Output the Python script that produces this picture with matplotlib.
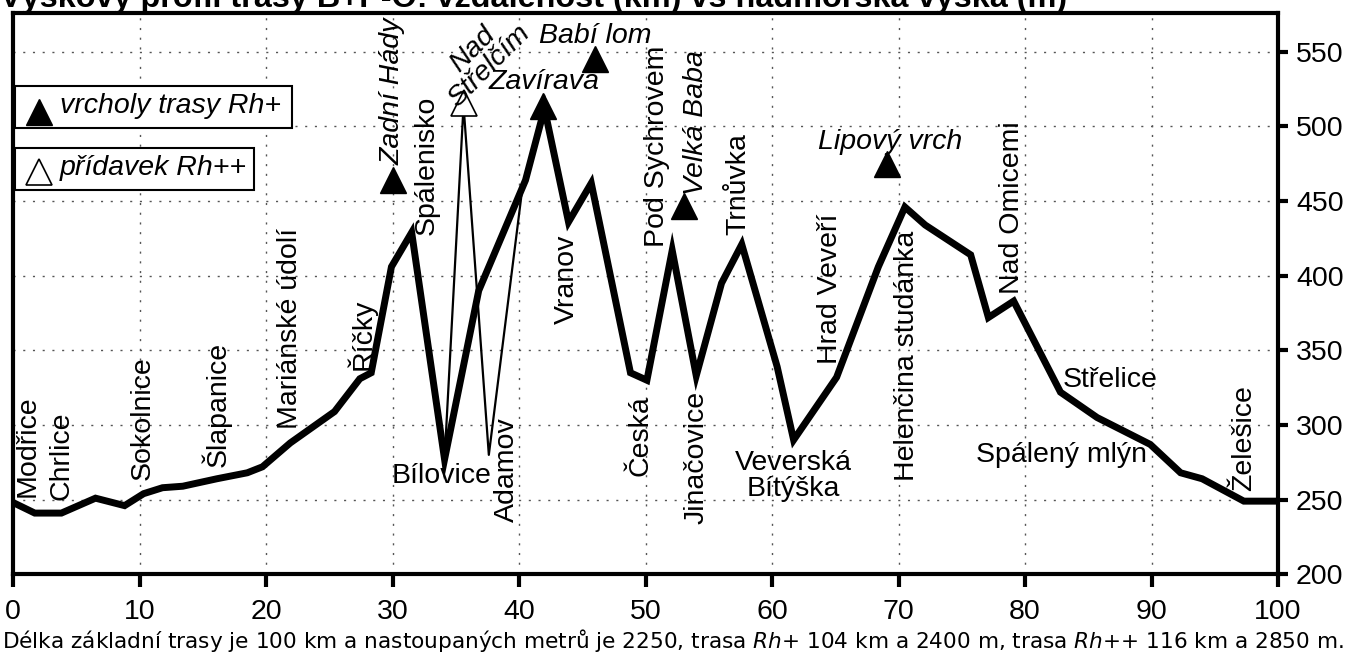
import matplotlib
matplotlib.use("Agg")
import matplotlib.pyplot as plt
from matplotlib.patches import Rectangle

plt.rcParams['font.family'] = ['Liberation Sans', 'DejaVu Sans']

# ---- data ----
route_km = [0, 1.7, 3.8, 6.5, 8.8, 10.3, 11.8, 13.4, 16.1, 18.5, 19.7, 21.9, 25.4, 27.4, 28.3,
            29.9, 31.5, 34.1, 36.8, 40.5, 42.0, 43.9, 45.7, 48.8, 50.1, 52.1, 54.0, 56.0, 57.6,
            60.4, 61.7, 65.1, 68.4, 70.5, 72.1, 75.7, 77.1, 79.1, 82.8, 85.7, 89.9, 92.3, 94.0,
            97.3, 100]
route_m = [248, 241, 241, 251, 246, 254, 258, 259, 264, 268, 272, 288, 309, 331, 335,
           406, 429, 277, 390, 464, 512, 436, 462, 335, 330, 417, 333, 395, 421,
           339, 290, 332, 406, 446, 434, 414, 372, 383, 322, 305, 287, 268, 264,
           249, 249]

extra_km = [34.1, 35.6, 37.6, 40.3]
extra_m = [277, 514, 280, 462]

peak_names = ["Zadní Hády", "Zavíravá", "Babí lom", "Velká Baba", "Lipový vrch"]
peak_km = [30.0, 41.9, 46.0, 53.0, 69.1]
peak_m = [464, 514, 545, 447, 475]

extra_peak_names = ["Nad\nStřelčím"]
extra_peak_km = [35.6]
extra_peak_m = [516]

place_names = ["Modřice", "Chrlice", "Sokolnice", "Šlapanice", "Mariánské údolí", "Říčky",
               "Spálenisko", "Bílovice", "Adamov", "Vranov", "Česká", "Pod Sychrovem",
               "Jinačovice", "Trnůvka", "Veverská\nBítýška", "Hrad Veveří",
               "Helenčina studánka", "Nad Omicemi", "Střelice", "Spálený mlýn", "Želešice"]

x_ticks = [0, 10, 20, 30, 40, 50, 60, 70, 80, 90, 100]
y_ticks = [200, 250, 300, 350, 400, 450, 500, 550]

title = "Výškový profil trasy B+P-O: vzdálenost (km) vs nadmořská výška (m)"
footnote = ("Délka základní trasy je 100 km a nastoupaných metrů je 2250, "
            "trasa $Rh$+ 104 km a 2400 m, trasa $Rh$++ 116 km a 2850 m.")

# label placement (km, m, rotation, ha, va)
place_pos = [
    (1.1, 252, 90, 'center', 'bottom'),
    (3.85, 250, 90, 'center', 'bottom'),
    (10.2, 263, 90, 'center', 'bottom'),
    (16.1, 272, 90, 'center', 'bottom'),
    (21.9, 297, 90, 'center', 'bottom'),
    (27.5, 337, 90, 'center', 'bottom'),
    (32.7, 427, 90, 'center', 'bottom'),
    (33.9, 266, 0, 'center', 'center'),
    (39.0, 305, 90, 'center', 'top'),
    (43.8, 368, 90, 'center', 'bottom'),
    (49.6, 320, 90, 'center', 'top'),
    (50.9, 419, 90, 'center', 'bottom'),
    (54.0, 323, 90, 'center', 'top'),
    (57.3, 427, 90, 'center', 'bottom'),
    (61.7, 266, 0, 'center', 'center'),
    (64.6, 341, 90, 'center', 'bottom'),
    (70.7, 430, 90, 'center', 'top'),
    (79.0, 388, 90, 'center', 'bottom'),
    (83.0, 330, 0, 'left', 'center'),
    (82.9, 280, 0, 'center', 'center'),
    (97.3, 256, 90, 'center', 'bottom'),
]
peak_label_pos = [
    (30.0, 474, 90, 'center', 'bottom'),
    (42.0, 521, 0, 'center', 'bottom'),
    (46.0, 552, 0, 'center', 'bottom'),
    (54.0, 454, 90, 'center', 'bottom'),
    (69.3, 481, 0, 'center', 'bottom'),
]
extra_label_pos = [(37.0, 546, 45, 'center', 'center')]

FS = 20.5

fig = plt.figure(figsize=(13.62, 6.57), dpi=100)
W, H = 1362, 657
L, R, T, B = 13.3, 1278, 13.3, 574.3
ax = fig.add_axes([L / W, 1 - B / H, (R - L) / W, (B - T) / H])

ax.set_xlim(0, 100)
ax.set_ylim(200, 575.8)

# grid
for xv in x_ticks[1:-1]:
    ax.axvline(xv, color='#555555', lw=1, linestyle=(0, (1.5, 5.5)), zorder=0)
for yv in y_ticks[1:]:
    ax.axhline(yv, color='#555555', lw=1, linestyle=(0, (1.5, 5.5)), zorder=0)

ax.plot(route_km, route_m, color='black', lw=5, solid_joinstyle='miter', zorder=3)
ax.plot(extra_km, extra_m, color='black', lw=1.6, zorder=3)

ax.plot(peak_km, peak_m, linestyle='none', marker='^', ms=19, color='black', zorder=4)
ax.plot(extra_peak_km, extra_peak_m, linestyle='none', marker='^', ms=19,
        markerfacecolor='white', markeredgecolor='black', markeredgewidth=1.2, zorder=4)

for name, (x, y, rot, ha, va) in zip(place_names, place_pos):
    ax.text(x, y, name, rotation=rot, ha=ha, va=va, fontsize=FS,
            multialignment='center', linespacing=1.0, zorder=5)
for name, (x, y, rot, ha, va) in zip(peak_names, peak_label_pos):
    ax.text(x, y, name, rotation=rot, ha=ha, va=va, fontsize=FS, style='italic', zorder=5)
for name, (x, y, rot, ha, va) in zip(extra_peak_names, extra_label_pos):
    ax.text(x, y, name, rotation=rot, ha=ha, va=va, fontsize=FS, style='italic',
            multialignment='center', linespacing=0.85, zorder=5)

# legend boxes
aw, ah = R - L, B - T
def px2ax(px, py):
    return (px - L) / aw, (B - py) / ah

x0, y0 = px2ax(15, 128)
x1, y1 = px2ax(292, 86)
ax.add_patch(Rectangle((x0, y0), x1 - x0, y1 - y0, transform=ax.transAxes,
                       facecolor='white', edgecolor='black', lw=1.5, zorder=6))
x0b, y0b = px2ax(15, 190)
x1b, y1b = px2ax(254, 148)
ax.add_patch(Rectangle((x0b, y0b), x1b - x0b, y1b - y0b, transform=ax.transAxes,
                       facecolor='white', edgecolor='black', lw=1.5, zorder=6))
mx, my = px2ax(39, 112)
ax.plot([mx], [my], marker='^', ms=19, color='black', transform=ax.transAxes, zorder=7)
mx2, my2 = px2ax(39, 172)
ax.plot([mx2], [my2], marker='^', ms=19, markerfacecolor='white', markeredgecolor='black',
        markeredgewidth=1.2, transform=ax.transAxes, zorder=7)
tx, ty = px2ax(60, 106)
ax.text(tx, ty, "vrcholy trasy Rh+", transform=ax.transAxes, ha='left', va='center',
        fontsize=FS, style='italic', zorder=7)
tx2, ty2 = px2ax(60, 168)
ax.text(tx2, ty2, "přídavek Rh++", transform=ax.transAxes, ha='left', va='center',
        fontsize=FS, style='italic', zorder=7)

# axes styling
for s in ax.spines.values():
    s.set_linewidth(3)
ax.set_xticks(x_ticks)
ax.set_yticks(y_ticks)
ax.yaxis.tick_right()
ax.tick_params(axis='x', direction='out', length=9, width=3, labelsize=FS, pad=9)
ax.tick_params(axis='y', direction='out', length=7, width=3, labelsize=FS, pad=6)

fig.text(0.0, 1 - 7 / H, title, fontsize=23.3, fontweight='bold', ha='left', va='baseline')
fig.text(2 / W, 1 - 641 / H, footnote, fontsize=15.6, family='DejaVu Sans',
         ha='left', va='center')

fig.savefig("out.png", dpi=100)
